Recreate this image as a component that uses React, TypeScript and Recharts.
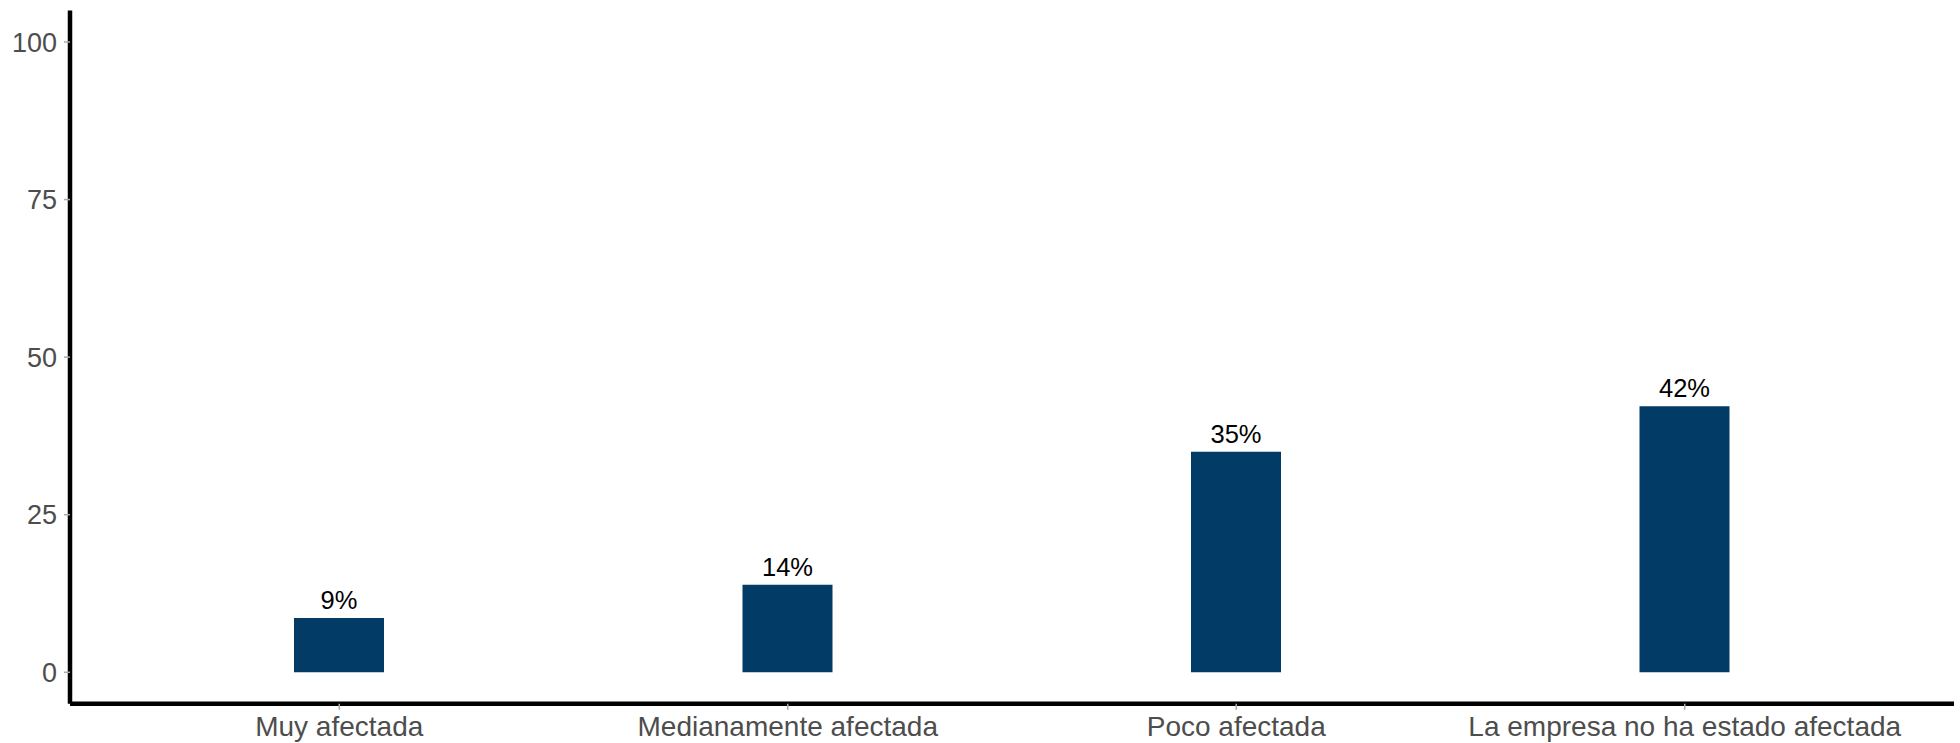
import React from 'react';
import { BarChart, Bar, XAxis, YAxis, LabelList } from 'recharts';

const categories = [
  'Muy afectada',
  'Medianamente afectada',
  'Poco afectada',
  'La empresa no ha estado afectada',
];
const values = [8.6, 13.9, 35.0, 42.2];
const valueLabels = ['9%', '14%', '35%', '42%'];
const yTicks = [0, 25, 50, 75, 100];

const data = categories.map((c, i) => ({ name: c, value: values[i], label: valueLabels[i] }));

const FONT = '"Liberation Sans", Arial, sans-serif';

export default function App() {
  return (
    <div style={{ position: 'absolute', left: 0, top: 0, width: 1960, height: 743, background: '#fff' }}>
      <BarChart
        width={1960}
        height={743}
        data={data}
        margin={{ top: 10.5, right: 6, bottom: 0, left: 0 }}
        barSize={90}
      >
        <XAxis
          dataKey="name"
          height={39.2}
          padding={{ left: 45, right: 45 }}
          axisLine={{ stroke: '#000', strokeWidth: 4.5 }}
          tickLine={{ stroke: '#aaa', strokeWidth: 1.5 }}
          tickSize={6}
          tickMargin={6}
          tick={{ fill: '#4d4d4d', fontSize: 28, fontFamily: FONT }}
          interval={0}
        />
        <YAxis
          width={70}
          domain={[-5, 105]}
          ticks={yTicks}
          allowDataOverflow
          axisLine={{ stroke: '#000', strokeWidth: 4.5 }}
          tickLine={{ stroke: '#aaa', strokeWidth: 1.5 }}
          tickSize={6}
          tickMargin={7}
          tick={{ fill: '#4d4d4d', fontSize: 27, fontFamily: FONT }}
        />
        <Bar dataKey="value" fill="#023b66" isAnimationActive={false}>
          <LabelList
            dataKey="label"
            position="top"
            offset={9}
            style={{ fill: '#000', fontSize: 25.5, fontFamily: FONT }}
          />
        </Bar>
      </BarChart>
    </div>
  );
}
